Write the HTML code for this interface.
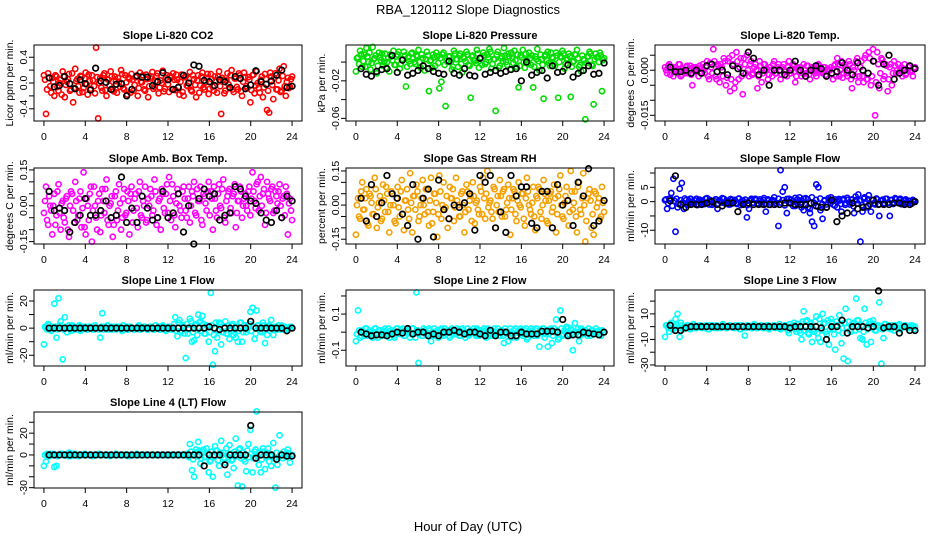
<!DOCTYPE html>
<html><head><meta charset="utf-8"><style>
html,body{margin:0;padding:0;background:#fff;}
svg{display:block;font-family:"Liberation Sans",Arial,sans-serif;}
</style></head><body>
<svg id="chart" width="936" height="540" viewBox="0 0 936 540">
<text x="468" y="14" text-anchor="middle" font-size="13">RBA_120112  Slope Diagnostics</text>
<text x="468" y="531" text-anchor="middle" font-size="13">Hour of Day (UTC)</text>
</svg>
<script>
// ---- data ----
const panelTitles=["Slope Li-820 CO2","Slope Li-820 Pressure","Slope Li-820 Temp.","Slope Amb. Box Temp.","Slope Gas Stream RH","Slope Sample Flow","Slope Line 1 Flow","Slope Line 2 Flow","Slope Line 3 Flow","Slope Line 4 (LT) Flow"];
const yTitles=["Licor ppm per min.","kPa per min.","degrees C per min.","degrees C per min.","percent per min.","ml/min per min.","ml/min per min.","ml/min per min.","ml/min per min.","ml/min per min."];
const xTicks=[0,4,8,12,16,20,24];
const yTickVals=[[-0.4,-0.2,0,0.2,0.4],[-0.06,-0.04,-0.02,0],[-0.015,-0.01,-0.005,0,0.005],[-0.15,-0.1,-0.05,0,0.05,0.1,0.15],[-0.15,-0.1,-0.05,0,0.05,0.1,0.15],[-10,-5,0,5,10],[-20,-10,0,10,20],[-0.1,0,0.1,0.2],[-30,-20,-10,0,10,20],[-30,-20,-10,0,10,20,30]];
const yTickLabels=[["-0.4","0.0","0.4"],["-0.06","-0.02"],["-0.015","0.000"],["-0.15","0.00","0.15"],["-0.15","0.00","0.15"],["-10","0","5"],["-20","0","20"],["-0.1","0.1"],["-30","-10","10"],["-30","0","20"]];
const yTickLabelVals=[[-0.4,0,0.4],[-0.06,-0.02],[-0.015,0],[-0.15,0,0.15],[-0.15,0,0.15],[-10,0,5],[-20,0,20],[-0.1,0.1],[-30,-10,10],[-30,0,20]];
const yLims=[[-0.59,0.59],[-0.0628,0.0182],[-0.0169,0.0084],[-0.16,0.158],[-0.171,0.163],[-14.8,11.75],[-27.9,28.1],[-0.187,0.233],[-30.8,28.7],[-30.3,39.4]];
const colors=["#ff0000","#00dd00","#ff00ff","#ff00ff","#f5a000","#0000ff","#00ffff","#00ffff","#00ffff","#00ffff"];

const co2=[0.12,-0.48,0.15,-0.05,0.08,-0.2,0.1,-0.12,0.05,0.18,-0.22,0.02,0.14,-0.1,-0.3,0.22,0.06,-0.15,0.1,-0.08,0.16,-0.18,0.03,0.12,-0.05,0.55,-0.55,0.08,-0.12,0.15,-0.2,0.05,0.18,-0.1,0.1,-0.15,0.02,0.2,-0.08,0.12,-0.18,0.06,0.14,-0.12,0.09,-0.2,0.16,0.01,-0.1,0.13,-0.22,0.07,0.17,-0.06,0.11,-0.16,0.04,0.19,-0.09,0.12,-0.14,0.08,0.15,-0.11,0.05,-0.18,0.13,-0.2,0.1,-0.05,0.17,-0.13,0.06,-0.22,0.12,-0.04,0.16,-0.1,0.08,-0.17,0.14,-0.06,0.1,-0.15,0.18,-0.48,0.05,-0.12,0.15,-0.08,0.2,-0.14,0.07,-0.1,0.12,-0.2,0.16,-0.05,0.09,-0.3,0.12,-0.16,0.18,-0.08,0.05,-0.22,0.14,-0.42,-0.46,0.1,-0.25,0.15,-0.1,0.22,-0.12,0.26,-0.2,0.08,-0.06,0.1];
const co2B=[0.05,-0.1,0.08,-0.15,0.02,0.12,-0.06,0.0,-0.18,0.1,-0.03,0.06,-0.12,0.15,-0.08,0.03,-0.05,0.11,-0.14,0.07,-0.02,0.13,-0.09,0.04,-0.16,0.09,0.0,-0.07,0.12,-0.11,0.06,-0.04,0.1,-0.13,0.03,0.08,-0.06,0.14,-0.1,0.01,0.09,-0.15,0.05,-0.03,0.11,-0.08,0.02,0.12,-0.12,0.06,-0.05,0.1,-0.09,0.03,0.15,-0.07,0.0,-0.13,0.08,-0.02,0.11,-0.1,0.05,0.13,-0.06,0.02,-0.14,0.09,-0.04,0.07,-0.11,0.12,-0.03,0.04,-0.15,0.1,-0.07,0.01,0.14,-0.09,0.06,-0.12,0.03,0.1,-0.05,0.08,-0.16,0.04,-0.02,0.12,-0.1,0.07,-0.06,0.15,-0.13,0.02,0.09,-0.08,0.05,-0.11,0.13,-0.04,0.0,-0.15,0.1,-0.07,0.06,-0.12,0.16,-0.03,0.08,-0.1,0.04,-0.14,0.11,-0.05,0.02,-0.08,0.06];
const co2Avg=[0.08,-0.06,-0.04,0.1,-0.01,-0.09,0.05,-0.01,-0.11,0.23,0.03,0.01,-0.1,-0.02,-0.01,-0.2,-0.1,0.11,0.09,0.09,-0.04,0.02,0.16,0.05,-0.1,-0.07,0.12,0.0,0.28,0.26,0.04,0.02,-0.04,0.05,0.02,-0.07,0.1,0.07,-0.09,-0.03,0.19,0.02,-0.02,0.03,0.12,0.2,-0.07,-0.05];
const pres=[-0.01,0.005,0.012,-0.005,0.008,0.015,0.0,-0.008,0.016,0.004,-0.012,0.01,0.002,-0.004,0.009,0.0,-0.01,0.006,0.012,-0.003,0.008,-0.007,0.003,0.011,-0.026,0.005,-0.002,0.01,0.0,0.007,0.013,-0.006,0.004,-0.009,0.011,-0.031,0.002,0.008,-0.004,0.006,-0.028,-0.021,0.01,-0.047,0.0,0.006,-0.008,0.012,0.003,-0.005,0.009,-0.011,0.004,0.011,-0.003,-0.038,0.007,0.001,0.013,-0.006,0.005,0.01,-0.002,0.008,0.014,-0.007,0.003,-0.052,0.011,-0.004,0.006,0.015,0.0,0.009,-0.008,0.004,0.012,-0.005,-0.027,0.007,0.013,-0.006,0.002,0.01,-0.003,-0.027,0.006,0.014,-0.009,0.003,-0.039,0.008,0.011,-0.004,0.005,-0.002,0.01,-0.038,0.006,0.012,-0.007,0.004,0.009,-0.037,0.0,0.008,0.013,-0.005,-0.01,0.003,-0.061,0.006,0.011,-0.003,-0.045,0.009,0.005,0.01,-0.031,0.004];
const presB=[0.004,-0.002,0.008,0.001,-0.005,0.006,0.01,-0.001,0.003,0.007,-0.004,0.005,0.009,0.0,-0.006,0.004,0.008,0.002,-0.003,0.006,0.011,-0.002,0.003,0.007,-0.005,0.001,0.009,0.004,-0.002,0.006,0.0,0.008,-0.004,0.003,0.007,0.001,-0.006,0.005,0.01,-0.001,0.004,0.008,-0.003,0.002,0.006,0.0,-0.005,0.009,0.003,0.007,-0.002,0.005,0.001,0.008,-0.004,0.006,0.002,-0.001,0.009,0.004,-0.003,0.007,0.0,0.005,0.011,-0.002,0.003,0.008,-0.006,0.004,0.001,0.007,-0.003,0.006,0.01,-0.001,0.002,0.008,-0.004,0.005,0.0,0.009,-0.002,0.004,0.007,-0.005,0.003,0.001,0.008,-0.003,0.006,0.002,-0.001,0.01,0.004,-0.004,0.007,0.0,0.005,0.009,-0.002,0.003,0.006,-0.005,0.001,0.008,0.004,-0.003,0.007,0.002,-0.001,0.006,0.009,-0.004,0.003,0.005,0.0,0.007,0.002];
const presAvg=[-0.007,-0.013,-0.015,-0.01,-0.008,-0.007,0.007,-0.011,0.002,-0.014,-0.012,-0.009,-0.004,-0.007,-0.01,-0.012,-0.013,0.001,-0.012,-0.014,-0.007,-0.014,-0.015,0.004,-0.013,-0.011,-0.009,-0.012,-0.01,-0.008,-0.007,-0.02,0.0,-0.014,-0.011,-0.009,-0.017,-0.004,-0.011,-0.01,-0.003,-0.016,-0.012,-0.009,-0.004,-0.013,-0.012,-0.001];
const temp=[0.001,-0.001,0.002,0.0,-0.002,0.001,-0.001,0.002,-0.0015,0.0,0.001,-0.001,0.0015,-0.005,0.0,0.001,-0.002,0.0005,0.002,-0.001,0.003,-0.003,0.001,0.007,-0.002,0.002,-0.004,0.001,0.004,-0.005,0.003,-0.007,0.005,-0.006,0.006,-0.003,0.004,-0.008,0.002,0.005,-0.002,0.003,-0.001,0.002,-0.006,0.003,-0.004,0.002,0.0,-0.003,0.001,-0.002,0.003,-0.001,0.002,-0.003,0.001,0.0,-0.002,0.003,-0.001,0.002,-0.004,0.001,0.0,-0.002,0.002,-0.001,0.0015,-0.003,0.001,0.0,-0.002,0.002,0.0,-0.001,0.001,-0.002,0.0,0.001,-0.003,0.002,0.004,-0.002,0.003,-0.001,0.001,-0.002,0.002,-0.006,0.0,0.003,-0.004,0.001,-0.002,0.004,-0.003,0.006,-0.005,0.007,-0.015,0.006,-0.006,0.004,-0.003,0.002,-0.007,0.001,-0.005,0.003,-0.001,0.002,0.0,-0.002,0.002,-0.001,0.001,0.0,-0.002,0.001];
const tempB=[0.0,0.0015,-0.0015,0.001,-0.0005,0.0,0.002,-0.002,0.0005,-0.001,0.0015,0.0,-0.0015,0.001,-0.0005,0.0,0.0015,-0.001,0.0,0.001,-0.002,0.0025,-0.001,0.003,-0.003,0.0015,0.002,-0.002,0.003,-0.0025,0.004,-0.003,0.002,-0.004,0.003,0.001,-0.002,0.004,-0.001,0.0,0.002,-0.0015,0.001,0.0,-0.002,0.0015,-0.001,0.002,0.0005,-0.0015,0.0,0.002,-0.001,0.001,0.0,-0.0015,0.002,-0.0005,0.001,-0.001,0.0005,0.0015,-0.002,0.0,0.001,-0.001,0.0,0.0015,-0.0015,0.0005,0.001,-0.001,0.0,0.0015,-0.0005,0.001,-0.0015,0.0005,0.0,-0.001,0.0015,-0.002,0.002,0.0,-0.0025,0.002,-0.001,0.003,-0.003,0.001,-0.002,0.004,-0.002,0.003,-0.004,0.005,-0.003,0.004,-0.002,0.003,-0.004,0.002,-0.001,0.0035,-0.002,0.0015,-0.003,0.002,-0.001,0.0015,0.0,-0.001,0.001,0.0005,-0.0015,0.0,0.0015,-0.0005,0.0005];
const tempAvg=[0.001,-0.0005,-0.0005,0.0,-0.001,0.0,-0.001,0.0015,0.002,-0.0005,0.0,-0.0015,0.0015,0.0005,-0.001,0.006,0.004,-0.0015,0.0,-0.005,0.0,0.0,-0.0015,0.0,0.003,0.0,-0.002,0.0,0.0015,0.0005,-0.002,-0.001,-0.0005,0.0025,0.0,-0.0015,0.0025,0.0,-0.001,0.003,-0.005,0.002,0.005,-0.003,-0.001,0.0,0.0015,0.0005];
const amb=[-0.03,0.08,-0.08,0.0,-0.12,0.05,-0.04,0.09,-0.1,0.02,-0.07,0.04,-0.13,0.06,-0.02,0.1,-0.06,0.03,-0.09,0.14,-0.12,0.0,0.05,-0.15,0.08,-0.05,0.02,-0.11,0.07,-0.03,0.11,-0.08,0.01,-0.13,0.04,-0.06,0.09,-0.1,0.03,-0.04,0.06,-0.12,0.08,-0.02,0.05,-0.09,0.1,-0.05,0.0,-0.07,0.03,0.07,-0.04,0.11,-0.08,0.02,-0.1,0.05,-0.03,0.09,0.12,-0.06,0.04,-0.09,0.07,0.0,-0.05,0.08,-0.02,0.03,-0.07,0.06,0.1,-0.04,0.02,0.08,-0.08,0.04,-0.02,0.1,0.06,-0.1,0.03,-0.05,0.09,-0.01,0.11,-0.07,0.04,0.07,-0.03,0.05,-0.09,0.02,0.08,-0.05,0.03,0.0,0.06,-0.04,0.14,0.02,0.09,-0.02,0.12,0.05,-0.08,0.1,0.03,0.07,-0.03,0.06,0.01,0.09,-0.05,0.04,0.08,-0.12,0.03,-0.06];
const ambB=[0.02,-0.06,0.04,-0.02,0.0,-0.08,0.06,-0.03,0.01,-0.05,0.03,-0.1,0.0,0.05,-0.07,0.02,-0.04,0.06,-0.01,-0.09,0.03,-0.06,0.08,-0.02,0.0,-0.1,0.05,-0.04,0.02,0.07,-0.06,0.0,0.04,-0.08,0.06,-0.02,0.01,-0.05,0.07,-0.03,0.02,0.05,-0.07,0.03,-0.01,0.06,-0.04,0.02,0.08,-0.06,0.0,0.04,-0.02,0.06,-0.05,0.03,0.07,-0.01,0.05,-0.03,0.02,0.09,-0.04,0.01,0.05,-0.02,0.06,0.03,-0.05,0.08,0.0,0.04,-0.03,0.07,0.02,-0.06,0.05,0.01,0.06,-0.04,0.03,0.08,-0.02,0.05,0.0,0.07,-0.05,0.02,0.06,-0.01,0.04,0.09,-0.03,0.02,0.06,0.0,0.05,-0.02,0.08,0.03,0.06,-0.01,0.1,0.04,0.0,0.07,-0.03,0.05,0.02,0.08,-0.02,0.04,0.06,0.0,0.03,-0.04,0.05,0.01,-0.02];
const ambAvg=[0.06,-0.02,-0.01,-0.02,-0.11,-0.07,-0.04,0.03,-0.04,-0.04,-0.02,0.02,-0.05,-0.04,0.12,-0.07,-0.01,-0.07,0.04,-0.01,-0.06,-0.05,0.06,-0.05,-0.03,0.05,-0.11,0.0,-0.16,0.03,0.07,0.04,0.05,-0.06,-0.04,-0.03,0.08,0.07,0.04,0.02,0.01,-0.03,-0.06,-0.07,-0.02,-0.05,0.04,0.02];
const rh=[-0.13,0.03,-0.06,0.1,-0.02,0.07,-0.09,0.04,-0.04,0.12,-0.1,0.01,-0.07,0.09,-0.03,0.05,-0.12,0.06,0.0,-0.08,0.08,-0.05,0.11,-0.11,0.02,-0.02,0.14,-0.12,0.04,0.09,-0.07,0.0,0.11,-0.04,0.07,-0.09,0.12,-0.03,0.05,-0.14,0.13,-0.06,0.1,-0.01,-0.1,0.08,0.03,-0.07,0.12,0.0,-0.05,0.06,-0.12,0.09,-0.02,0.04,0.1,-0.08,0.02,-0.04,0.06,0.12,-0.06,0.15,0.01,-0.03,0.08,-0.1,0.04,0.11,-0.05,0.07,-0.02,0.09,-0.13,0.03,0.06,-0.07,0.1,-0.01,0.05,-0.09,0.12,0.0,-0.04,0.08,-0.11,0.03,0.07,-0.06,0.11,0.02,-0.08,0.05,-0.03,0.09,-0.12,0.04,0.13,-0.05,0.01,0.08,-0.09,0.15,-0.02,0.06,-0.12,0.1,-0.04,0.14,-0.16,0.03,0.07,-0.1,-0.13,0.05,0.01,-0.06,0.08,-0.03];
const rhB=[0.0,-0.05,0.06,-0.02,0.03,-0.08,0.05,0.01,-0.04,0.07,-0.01,0.04,-0.06,0.02,0.08,-0.03,0.0,0.05,-0.07,0.03,-0.01,0.06,-0.04,0.02,0.07,-0.06,0.01,0.04,-0.02,0.06,-0.05,0.03,0.0,0.07,-0.03,0.02,-0.08,0.05,0.01,-0.04,0.06,0.0,-0.02,0.04,-0.06,0.03,0.07,-0.01,0.02,-0.05,0.05,0.0,-0.03,0.06,0.02,-0.07,0.04,0.01,-0.02,0.08,-0.04,0.03,0.05,-0.01,0.02,-0.06,0.07,0.0,-0.03,0.04,0.06,-0.05,0.01,0.03,-0.02,0.07,-0.04,0.02,0.0,0.05,-0.06,0.03,0.06,-0.02,0.01,-0.05,0.04,0.08,-0.03,0.0,0.05,-0.07,0.02,0.06,-0.01,0.03,-0.04,0.07,0.0,-0.06,0.04,0.02,-0.03,0.06,0.01,-0.05,0.08,-0.02,0.03,0.0,-0.07,0.05,0.02,-0.04,0.06,-0.01,0.03,-0.05,0.01];
const rhAvg=[0.03,-0.07,0.09,-0.05,0.01,0.13,0.05,0.03,-0.04,-0.09,0.09,-0.15,0.03,0.07,-0.14,0.11,-0.02,-0.06,0.0,-0.01,0.01,0.05,-0.11,0.13,0.1,0.13,-0.1,-0.03,-0.12,0.13,0.04,0.08,0.08,-0.08,-0.1,0.06,0.06,-0.1,0.09,0.0,0.02,-0.09,0.1,0.04,0.16,-0.09,-0.07,0.02];
const samp=[0.5,-2.5,1,3,8,-10.5,-2,4.5,6.5,-2.5,0.5,-1,1,0,-0.5,1,-1,0.5,0,-0.8,1.2,-1,0.3,-0.5,0.8,-2.5,0.5,-0.3,1,-0.7,0.2,-1,0.6,0,-0.5,1,-1.2,0.4,-0.3,-5.5,-2.5,0.6,-0.4,1,-0.6,0.2,-0.9,0.5,-3.5,0.8,-0.3,0.4,1.5,-0.5,-8.5,11,3.5,5,-4,1,-0.6,0.3,-1.5,0.8,1.5,-0.5,-3,1.2,-2,-4,-7,-8.5,6,5,-3,-6,0.5,-2,0.5,1.5,-1,0.8,-2,0.4,-3.5,1,-0.5,0.6,-1,0.8,-4,0.5,2.5,-14,-3.5,1.5,-2,2.2,-3.5,0.5,-1,0.8,-5,0.3,-0.6,1,-0.4,-5,0.6,-0.3,0.8,-0.5,1,-0.2,0.5,-0.8,0.3,-0.4,0.6,0];
const sampB=[0.8,-0.5,1.2,-1.5,0.3,1,-0.8,0.5,-0.3,1.1,-1,0.2,0.9,-0.6,0.4,-1.2,0.7,0,-0.9,1,-0.4,0.6,-1.1,0.3,0.8,-0.7,0.1,1.2,-0.5,0.4,-1,0.9,-0.2,0.6,-0.8,1.1,0,-0.6,0.7,-1.2,0.3,1,-0.4,0.5,-0.9,0.8,-0.1,1.2,-0.7,0.4,-1.1,0.6,0.2,-0.8,1,-0.3,0.5,-1.3,0.9,-0.2,0.7,-1.5,1.3,-0.6,0.4,-2,1,-1.2,0.8,-2.5,1.5,-0.4,0.6,-1.8,1.1,-0.9,0.3,-1,1.2,-0.5,0.7,-1.4,0.2,0.9,-0.8,0.5,-1.1,1.3,-0.3,0.6,-1.6,1.8,-0.7,0.4,-1.2,1,-0.2,0.8,-1,0.6,-0.5,1.1,-0.9,0.3,0.7,-0.6,1,-0.4,0.5,-0.8,1.2,-0.3,0.6,-0.9,0.4,0.8,-0.5,0.2,-0.7,0.3];
const sampAvg=[0.3,9,-1,-2,-1,-1,-1,-0.5,0,-1,-1.5,-0.5,-0.5,-3.5,-1,-0.5,-1,-1,-1,-1,-1,-1,-0.5,-0.5,-1,-1,-1,-0.5,-1.5,-2,-2,0.5,-7,-5,-4,-0.5,-2.5,-2,-1.5,0.5,-1,-1,-1,-0.5,-0.5,-1,-1,0];
const line1=[-12,0,3,-1,1,18,-7,22,5,-23,8,-3,2,-2,1,0,-1,2,-1,0,1,-1,0,1,-1,0,0,-7,11,1,-1,0,1,-1,0,1,0,-1,2,0,-1,1,0,-1,0,1,-1,0,1,0,-1,1,0,-1,0,1,-1,2,-1,0,1,-1,0,8,-6,6,-2,1,-22,-4,7,-10,-9,3,10,5,9,-4,2,-10,26,-27,-17,-7,4,-12,-3,5,-4,-8,2,-5,-7,-10,4,-10,2,-3,1,12,15,-8,13,0,-2,4,-11,-5,2,6,-5,1,-1,0,2,-1,0,-1,1,0];
const line1B=[1,-1,2,-2,0,1,-1,2,0,-1,1,0,-1,2,-1,0,1,-2,1,0,-1,1,0,-1,2,0,-1,1,-1,0,2,-1,0,1,-1,0,1,-2,0,1,-1,1,0,-1,0,2,-1,0,1,-1,0,1,-1,2,0,-1,1,0,-2,1,0,-1,3,-2,4,-3,2,-4,3,-1,5,-3,2,-5,4,-2,3,-4,1,-3,2,-5,4,-2,3,-3,1,-4,2,-2,3,-3,1,-2,4,-3,2,-1,3,-2,1,-4,2,0,-3,2,-1,1,-2,0,1,-1,2,-1,0,1,-1,0,1];
const line1Avg=[0,0,0,0,0,0,0,0,0,0,0,0,0,0,0,0,0,0,0,0,0,0,0,0,0,0,0,0,0,0,0,1,0,-1,0,0,0,0,0,5,0,0,0,0,0,0,-2,0];
const line2=[-0.05,0.12,-0.03,0.01,-0.02,0.02,-0.01,0.0,-0.03,0.02,-0.01,0.01,-0.02,0.0,0.02,-0.01,-0.03,0.01,-0.02,0.0,0.02,-0.01,0.01,-0.02,0.0,0.01,-0.03,0.02,-0.01,0.22,-0.17,0.0,-0.02,0.01,-0.01,0.02,-0.05,0.0,-0.02,0.01,-0.01,0.02,-0.02,0.0,0.01,-0.03,0.02,-0.01,0.0,0.01,-0.02,0.02,-0.01,0.0,-0.02,0.01,0.0,-0.01,0.02,-0.02,0.01,0.0,-0.01,0.02,-0.02,0.01,-0.01,0.0,0.02,-0.02,0.01,-0.06,0.0,-0.05,0.02,-0.01,0.01,-0.03,0.0,0.02,-0.02,0.01,-0.04,0.0,0.02,-0.01,0.01,-0.02,-0.08,0.0,0.02,-0.01,-0.08,0.01,-0.06,0.02,0.07,-0.04,0.12,-0.02,0.01,0.03,-0.01,0.02,-0.1,0.05,0.0,-0.05,0.02,-0.01,0.01,-0.02,0.0,0.01,-0.01,0.02,0.0,-0.01,0.01,0.0];
const line2B=[-0.01,0.01,-0.02,0.0,0.02,-0.02,0.01,-0.01,0.0,0.02,-0.03,0.01,0.0,-0.02,0.01,0.02,-0.01,0.0,-0.03,0.02,0.0,-0.01,0.02,-0.02,0.01,0.0,-0.01,0.02,-0.03,0.01,0.0,-0.02,0.02,0.0,-0.01,0.01,-0.02,0.02,0.0,-0.03,0.01,-0.01,0.02,0.0,-0.02,0.01,0.0,-0.01,0.02,-0.02,0.0,0.01,-0.03,0.02,-0.01,0.0,0.02,-0.02,0.01,0.0,-0.01,0.02,-0.03,0.01,0.0,-0.02,0.02,-0.01,0.0,0.01,-0.02,0.02,-0.01,0.0,-0.03,0.01,0.02,-0.02,0.0,0.01,-0.01,0.02,-0.03,0.0,0.01,-0.02,0.02,-0.01,0.0,0.02,-0.03,0.01,-0.01,0.02,-0.02,0.0,0.01,-0.03,0.02,-0.01,0.0,0.02,-0.02,0.01,-0.01,0.0,0.02,-0.02,0.01,-0.01,0.0,0.02,-0.02,0.01,0.0,-0.01,0.01,-0.02,0.0];
const line2Avg=[0,-0.01,-0.02,-0.015,-0.015,-0.02,-0.01,0.0,-0.005,0.02,-0.01,0.0,0.0,-0.02,-0.01,-0.02,0.0,0.0,0.01,0.0,-0.01,0.0,0.0,-0.01,-0.02,0.01,-0.02,0.0,0.0,-0.02,-0.02,0.0,-0.01,-0.01,-0.01,0.005,0.005,0.005,0.0,0.07,-0.02,-0.015,-0.015,0.0,-0.005,-0.01,-0.015,0.0];
const line3=[-8,1,-4,3,-2,6,10,-8,1,-1,0,1,-2,0,1,-1,0,1,0,-1,1,-2,0,1,0,-1,0,1,0,-1,0,1,0,-1,0,1,-2,0,-7,1,0,-1,1,0,-1,0,1,-1,0,1,-1,0,1,0,-1,-2,0,1,-1,-5,0,1,-2,2,-3,-10,12,4,-5,2,-12,-4,8,-9,-12,10,3,-6,-14,6,-2,-18,1,9,-13,-25,14,-27,-3,2,3,22,5,-9,-10,14,-14,2,-12,5,-3,0,19,-29,-9,2,0,-1,1,-3,0,1,-2,0,1,0,-1,1,0,0];
const line3B=[1,-1,2,-2,0,1,-1,3,-2,0,1,-1,0,2,-1,0,1,-1,0,1,-2,1,0,-1,1,0,-1,2,0,-1,1,0,-1,1,0,-2,1,0,-1,1,0,-1,2,-1,0,1,-1,0,1,-2,0,1,-1,0,2,-1,0,1,-3,2,-1,3,-4,2,-5,4,-3,5,-6,3,-2,4,-5,6,-3,2,-4,5,-2,3,-6,4,-3,2,-5,3,-1,4,-4,2,-3,5,-2,1,-4,3,-2,4,-1,2,-3,1,0,-2,2,-1,1,-2,0,1,-1,2,-1,0,1,-1,0,1,-2];
const line3Avg=[1,-3,-3,-1,0,0,0,0,0,0,0,0,0,0,0,0,0,0,0,0,0,0,0,-1,0,0,0,0,0,-1,-10,0,0,5,-5,0,0,0,-1,0,28,-1,0,0,-5,0,-3,-3];
const line4=[-10,-6,0,1,0,-11,-10,0,1,0,0,0,2,-1,0,1,0,0,0,0,0,0,0,0,0,0,0,0,0,0,0,0,0,0,0,0,0,0,0,0,0,0,0,0,0,0,0,0,0,0,0,0,0,0,0,0,0,0,0,0,0,0,0,0,0,0,0,0,0,0,10,-14,-20,5,12,-8,3,-2,6,-16,-5,-20,8,4,-10,13,2,-7,-18,9,-5,-12,15,-28,6,-29,-4,-15,10,23,-16,3,40,-9,-16,6,-13,2,-6,-10,11,-30,-9,18,0,3,-2,5,-7,0];
const line4B=[0,1,-1,0,1,0,-1,0,1,0,0,-1,0,1,0,0,-1,0,0,1,0,0,0,-1,0,0,1,0,0,0,0,-1,0,0,1,0,0,0,0,0,-1,0,0,0,1,0,0,0,0,0,0,0,0,0,0,0,0,0,0,0,0,0,0,0,0,0,0,0,1,-2,3,-4,2,-1,4,-3,5,-2,1,-6,3,-2,4,-5,2,0,-3,6,-2,1,-4,3,-1,5,-3,2,-6,4,-2,1,-3,5,-1,2,-4,3,-2,6,-1,0,-3,2,-2,1,-3,0,2,-1,0];
const line4Avg=[0,0,0,0,0,0,0,0,0,0,0,0,0,0,0,0,0,0,0,0,0,0,0,0,0,0,0,0,0,0,-10,0,0,0,-9,0,0,0,0,27,-3,0,0,0,-4,0,-1,-1];
const series=[co2,pres,temp,amb,rh,samp,line1,line2,line3,line4];
const seriesB=[co2B,presB,tempB,ambB,rhB,sampB,line1B,line2B,line3B,line4B];
const seriesAvg=[co2Avg,presAvg,tempAvg,ambAvg,rhAvg,sampAvg,line1Avg,line2Avg,line3Avg,line4Avg];

// ---- layout ----
const svg=document.getElementById('chart');
const NS='http://www.w3.org/2000/svg';
const colL=[34,346,655], colR=[302,614,925];
const rowT=[45,168,290,412], rowH=76;
function mk(tag,attrs,parent){const e=document.createElementNS(NS,tag);for(const k in attrs)e.setAttribute(k,attrs[k]);(parent||svg).appendChild(e);return e;}

panelTitles.forEach((title,p)=>{
  const c=p%3, r=Math.floor(p/3);
  const L=colL[c], R=colR[c], T=rowT[r], B=T+rowH;
  const w=R-L;
  const xs=v=>L+w*(v+0.96)/25.92;
  const [y0,y1]=yLims[p];
  const ys=v=>B-(v-y0)/(y1-y0)*rowH;
  const g=mk('g',{});
  
  
  const t=mk('text',{x:(L+R)/2,y:T-6,'text-anchor':'middle','font-size':11,'font-weight':'bold'},g);
  
  
  t.textContent=title;
  const yt=mk('text',{transform:`translate(${L-21},${(T+B)/2}) rotate(-90)`,'text-anchor':'middle','font-size':10.5},g);
  
  
  yt.textContent=yTitles[p];
  // points
  const pts=mk('g',{fill:'none','stroke-width':1.6},g);
  
  
  const vb=seriesB[p], nb=vb.length;
  vb.forEach((v,i)=>{
    const ci=mk('circle',{cx:xs(24*(i+0.5)/nb),cy:ys(v),r:2.6,stroke:colors[p]},pts);
    
    
  });
  const vals=series[p], n=vals.length;
  vals.forEach((v,i)=>{
    const ci=mk('circle',{cx:xs(24*i/(n-1)),cy:ys(v),r:2.6,stroke:colors[p]},pts);
    
    
  });
  const avg=mk('g',{fill:'none','stroke-width':1.7,stroke:'#000'},g);
  
  
  seriesAvg[p].forEach((v,i)=>{
    const ci=mk('circle',{cx:xs(0.5*(i+1)),cy:ys(v),r:2.8},avg);
    
    
  });
  // box
  const bx=mk('rect',{x:L,y:T,width:w,height:rowH,fill:'none',stroke:'#000','stroke-width':1},g);
  
  
  // x axis
  const xa=mk('g',{stroke:'#000','stroke-width':1},g);
  
  
  xTicks.forEach(v=>{
    mk('line',{x1:xs(v),x2:xs(v),y1:B,y2:B+5},xa);
    const tl=mk('text',{x:xs(v),y:B+19,'text-anchor':'middle','font-size':10.5,stroke:'none',fill:'#000'},xa);
    
    
    tl.textContent=v;
  });
  // y axis
  const ya=mk('g',{stroke:'#000','stroke-width':1},g);
  
  
  yTickVals[p].forEach(v=>{mk('line',{x1:L-5,x2:L,y1:ys(v),y2:ys(v)},ya);});
  yTickLabels[p].forEach((s,i)=>{
    const v=yTickLabelVals[p][i];
    const tl=mk('text',{transform:`translate(${L-7},${ys(v)}) rotate(-90)`,'text-anchor':'middle','font-size':10.5,stroke:'none',fill:'#000'},ya);
    
    
    tl.textContent=s;
  });
});
</script>
</body></html>
